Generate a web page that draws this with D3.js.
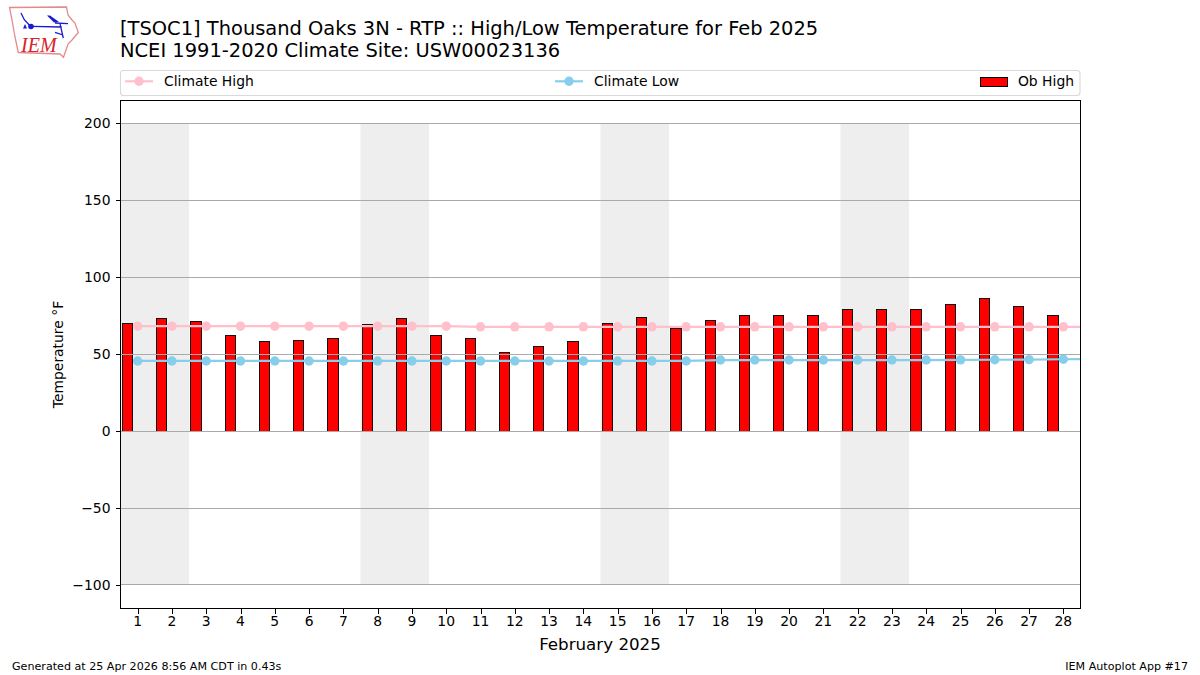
<!DOCTYPE html>
<html>
<head>
<meta charset="utf-8">
<script src="https://cdn.jsdelivr.net/npm/d3@7"></script>
<style>
  html, body { margin: 0; padding: 0; background: #fff; }
  text { font-family: "DejaVu Sans", sans-serif; fill: #000; }
</style>
</head>
<body>
<svg id="chart" width="1200" height="675"></svg>
<script>
// values, one entry per day (the last climate value is Mar 1, clipped by the axes)
const days = d3.range(1, 29);
const climateDays = d3.range(1, 30);
const obHigh = [70, 73, 71, 62, 58, 59, 60, 69, 73, 62, 60, 51, 55, 58, 70, 74, 67, 72, 75, 75, 75, 79, 79, 79, 82, 86, 81, 75];
const climateHigh = [68.2, 68.2, 68.2, 68.2, 68.2, 68.2, 68.2, 68.2, 68.2, 68.2, 67.8, 67.8, 67.8, 67.8, 67.8, 67.8, 67.8, 67.8, 67.8, 67.8, 67.8, 67.8, 67.8, 67.8, 67.8, 67.8, 67.8, 67.8, 67.8];
const climateLow = [45.6, 45.6, 45.6, 45.6, 45.6, 45.6, 45.6, 45.6, 45.6, 45.6, 45.6, 45.6, 45.6, 45.6, 45.6, 45.6, 45.6, 46.2, 46.2, 46.2, 46.2, 46.2, 46.2, 46.2, 46.3, 46.4, 46.5, 46.7, 46.9];
const weekends = [[1, 2], [8, 9], [15, 16], [22, 23]];
const yTicks = [-100, -50, 0, 50, 100, 150, 200];

const titleLines = ['[TSOC1] Thousand Oaks 3N - RTP :: High/Low Temperature for Feb 2025', 'NCEI 1991-2020 Climate Site: USW00023136'];

const margin = { top: 100.5, left: 120.5 };
const width = 960;
const height = 508;

const svg = d3.select('#chart');
const g = svg.append('g').attr('transform', `translate(${margin.left},${margin.top})`);

const x = d3.scaleLinear().domain([0.5, 28.5]).range([0, width]);
const y = d3.scaleLinear().domain([-115.3, 214.9]).range([height, 0]);
const dayWidth = x(1) - x(0);

svg.append('defs').append('clipPath').attr('id', 'plot')
  .append('rect').attr('width', width).attr('height', height);

const plot = g.append('g').attr('clip-path', 'url(#plot)');

// weekend shading
plot.selectAll('.weekend')
  .data(weekends)
  .enter()
  .append('rect')
  .attr('class', 'weekend')
  .attr('x', (d) => x(d[0] - 0.5))
  .attr('y', y(200))
  .attr('width', (d) => x(d[1] + 0.5) - x(d[0] - 0.5))
  .attr('height', y(-100) - y(200))
  .attr('fill', '#eeeeee');

// bars sit to the left of the day tick
plot.selectAll('.bar')
  .data(obHigh)
  .enter()
  .append('rect')
  .attr('class', 'bar')
  .attr('x', (d, i) => x(days[i] - 0.45))
  .attr('y', (d) => y(d))
  .attr('width', dayWidth * 0.3)
  .attr('height', (d) => y(0) - y(d))
  .attr('fill', '#ff0000')
  .attr('stroke', '#111')
  .attr('stroke-width', 1)
  .attr('shape-rendering', 'crispEdges');

// grid goes over the bars and under the lines
plot.selectAll('.grid')
  .data(yTicks)
  .enter()
  .append('line')
  .attr('class', 'grid')
  .attr('x1', 0)
  .attr('x2', width)
  .attr('y1', (d) => y(d))
  .attr('y2', (d) => y(d))
  .attr('stroke', '#aaaaaa')
  .attr('stroke-width', 1)
  .attr('shape-rendering', 'crispEdges');

function drawClimate(values, color) {
  const line = d3.line().x((d, i) => x(climateDays[i])).y((d) => y(d));
  plot.append('path')
    .datum(values)
    .attr('fill', 'none')
    .attr('stroke', color)
    .attr('stroke-width', 2.2)
    .attr('d', line);
  plot.append('g').selectAll('circle')
    .data(values)
    .enter()
    .append('circle')
    .attr('cx', (d, i) => x(climateDays[i]))
    .attr('cy', (d) => y(d))
    .attr('r', 4.7)
    .attr('fill', color);
}
drawClimate(climateHigh, 'pink');
drawClimate(climateLow, 'skyblue');

// axes
const xAxis = g.append('g')
  .attr('transform', `translate(0,${height})`)
  .call(d3.axisBottom(x).tickValues(days).tickFormat(d3.format('d')).tickSize(5).tickPadding(3));
const yAxis = g.append('g')
  .call(d3.axisLeft(y).tickValues(yTicks).tickFormat((d) => String(d).replace('-', '\u2212')).tickSize(5).tickPadding(5));
[xAxis, yAxis].forEach((a) => {
  a.select('.domain').remove();
  a.selectAll('line').attr('stroke', '#000').attr('stroke-width', 1).attr('shape-rendering', 'crispEdges');
  a.selectAll('text').attr('font-family', 'DejaVu Sans').attr('font-size', 13.9).attr('fill', '#000');
});
xAxis.selectAll('text').attr('dx', -0.5);

g.append('rect')
  .attr('width', width)
  .attr('height', height)
  .attr('fill', 'none')
  .attr('stroke', '#000')
  .attr('stroke-width', 1)
  .attr('shape-rendering', 'crispEdges');

g.append('text')
  .attr('x', width / 2 - 0.5)
  .attr('y', height + 41)
  .attr('text-anchor', 'middle')
  .attr('font-size', 16.7)
  .text('February 2025');

svg.append('text')
  .attr('transform', 'translate(63,354.5) rotate(-90)')
  .attr('text-anchor', 'middle')
  .attr('font-size', 13.9)
  .text('Temperature \u00b0F');

// title
svg.selectAll('.title')
  .data(titleLines)
  .enter()
  .append('text')
  .attr('class', 'title')
  .attr('x', 120)
  .attr('y', (d, i) => 35 + i * 22)
  .attr('font-size', 19.45)
  .text((d) => d);

// legend
const legend = svg.append('g');
legend.append('rect')
  .attr('x', 120.5)
  .attr('y', 70.5)
  .attr('width', 959.5)
  .attr('height', 25)
  .attr('rx', 3)
  .attr('fill', '#fff')
  .attr('stroke', '#d9d9d9')
  .attr('stroke-width', 1.1);

function legendLine(x0, color, label) {
  legend.append('line')
    .attr('x1', x0)
    .attr('x2', x0 + 28)
    .attr('y1', 81.3)
    .attr('y2', 81.3)
    .attr('stroke', color)
    .attr('stroke-width', 2.2);
  legend.append('circle')
    .attr('cx', x0 + 14)
    .attr('cy', 81.3)
    .attr('r', 4.7)
    .attr('fill', color);
  legend.append('text')
    .attr('x', x0 + 39)
    .attr('y', 86)
    .attr('font-size', 13.9)
    .text(label);
}
legendLine(125, 'pink', 'Climate High');
legendLine(555, 'skyblue', 'Climate Low');
legend.append('rect')
  .attr('x', 980.5)
  .attr('y', 77.5)
  .attr('width', 27)
  .attr('height', 9)
  .attr('fill', '#ff0000')
  .attr('stroke', '#000')
  .attr('stroke-width', 1)
  .attr('shape-rendering', 'crispEdges');
legend.append('text')
  .attr('x', 1074)
  .attr('y', 86)
  .attr('text-anchor', 'end')
  .attr('font-size', 13.9)
  .text('Ob High');

// footer
svg.append('text')
  .attr('x', 12)
  .attr('y', 670)
  .attr('font-size', 11.12)
  .text('Generated at 25 Apr 2026 8:56 AM CDT in 0.43s');
svg.append('text')
  .attr('x', 1188)
  .attr('y', 670)
  .attr('text-anchor', 'end')
  .attr('font-size', 11.12)
  .text('IEM Autoplot App #17');

// IEM logo, traced by hand
const logo = svg.append('g');
logo.append('path')
  .attr('d', 'M9.5,7.5 L66.5,7 L68,15 L72,20 L75,23 L78.3,32.5 L72,40 L68,44 L66,50 L63.5,57.3 L60,54 L18.3,52.5 L15,37 L12,20 Z')
  .attr('fill', 'none')
  .attr('stroke', '#e58a8a')
  .attr('stroke-width', 1.3);
logo.append('path')
  .attr('d', 'M31,26.3 L61.7,27 M21,13 L24.3,19.7 L30,25.7 M60,23.7 L63.3,38 M55,23 L68,23.7 M55,32.3 L63,35')
  .attr('fill', 'none')
  .attr('stroke', '#1a1ad0')
  .attr('stroke-width', 1.3);
logo.append('path')
  .attr('d', 'M47,15.5 L50,15.5 L59,22 L54,22.5 Z')
  .attr('fill', '#1a1ad0');
logo.append('circle').attr('cx', 31).attr('cy', 26.5).attr('r', 2.8).attr('fill', '#1a1ad0');
logo.append('path')
  .attr('d', 'M25,24 L27,28.5 L23,28.5 Z')
  .attr('fill', '#1a1ad0');
logo.append('text')
  .attr('x', 21)
  .attr('y', 52)
  .attr('font-size', 20)
  .attr('font-style', 'italic')
  .style('font-family', '"Liberation Serif", serif')
  .style('fill', '#d8232a')
  .text('IEM');
</script>
</body>
</html>
